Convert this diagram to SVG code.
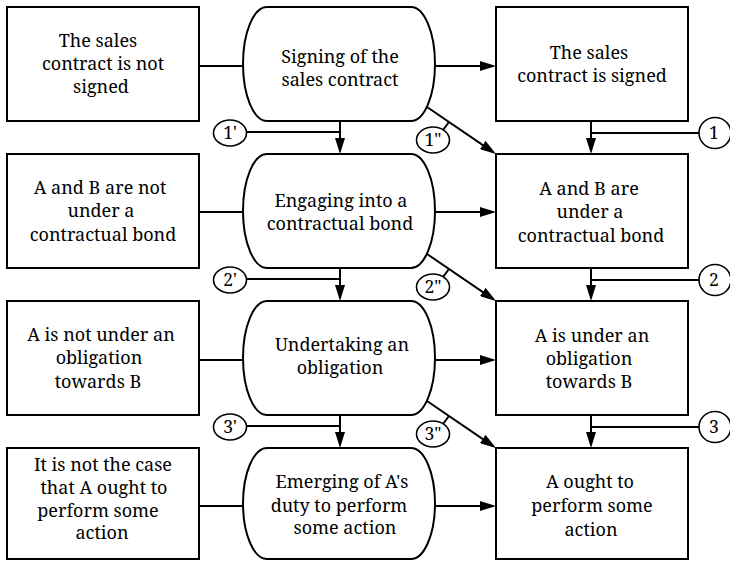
<svg xmlns="http://www.w3.org/2000/svg" width="730" height="561" viewBox="0 0 730 561">
<style>
.box{fill:#fff;stroke:#000;stroke-width:2}
.ov{fill:#fff;stroke:#000;stroke-width:2}
.c{fill:#fff;stroke:#000;stroke-width:1.6}
.ln{fill:none;stroke:#000;stroke-width:2}
.ar{fill:none;stroke:#000;stroke-width:2;marker-end:url(#ah)}
text{font-family:'Noto Serif','DejaVu Serif',serif;fill:#000;text-anchor:middle}
.t{font-size:18px}
.l{font-size:17.5px}
</style>
<defs>
<marker id="ah" markerUnits="userSpaceOnUse" markerWidth="16" markerHeight="10" refX="13" refY="5" orient="auto">
<path d="M0,0 L16,5 L0,10 Z" fill="#000"/>
</marker>
</defs>
<rect width="730" height="561" fill="#fff"/>

<g id="connectors">
<line class="ln" x1="199" y1="66" x2="243" y2="66"/>
<line class="ar" x1="435" y1="66" x2="493" y2="66"/>
<line class="ln" x1="199" y1="212" x2="243" y2="212"/>
<line class="ar" x1="435" y1="212" x2="493" y2="212"/>
<line class="ln" x1="199" y1="360" x2="243" y2="360"/>
<line class="ar" x1="435" y1="360" x2="493" y2="360"/>
<line class="ln" x1="199" y1="506" x2="243" y2="506"/>
<line class="ar" x1="435" y1="506" x2="493" y2="506"/>
<line class="ar" x1="340" y1="121" x2="340" y2="151"/>
<line class="ar" x1="340" y1="268" x2="340" y2="298"/>
<line class="ar" x1="340" y1="415" x2="340" y2="445"/>
<line class="ar" x1="591" y1="121" x2="591" y2="151"/>
<line class="ar" x1="591" y1="268" x2="591" y2="298"/>
<line class="ar" x1="591" y1="415" x2="591" y2="445"/>
<line class="ar" x1="427" y1="107" x2="493.5" y2="152.3"/>
<line class="ar" x1="427" y1="254" x2="493.5" y2="299.3"/>
<line class="ar" x1="427" y1="401" x2="493.5" y2="446.3"/>
<line class="ln" x1="246" y1="132" x2="340" y2="132"/>
<line class="ln" x1="246" y1="279" x2="340" y2="279"/>
<line class="ln" x1="246" y1="426" x2="340" y2="426"/>
<line class="ln" x1="699" y1="133" x2="591" y2="133"/>
<line class="ln" x1="699" y1="280" x2="591" y2="280"/>
<line class="ln" x1="699" y1="427" x2="591" y2="427"/>
<line class="ln" x1="443" y1="130" x2="449" y2="122"/>
<line class="ln" x1="443" y1="277" x2="449" y2="269"/>
<line class="ln" x1="443" y1="424" x2="449" y2="416"/>
</g>

<g id="left1"><rect class="box" x="7" y="7" width="192" height="114"/>
<text class="t"><tspan x="98" y="47">The sales</tspan><tspan x="103" y="70">contract is not</tspan><tspan x="101" y="93">signed</tspan></text></g>
<g id="mid1"><path class="ov" d="M267,7 H411 A24,57 0 0 1 411,121 H267 A24,57 0 0 1 267,7 Z"/>
<text class="t"><tspan x="340" y="63">Signing of the</tspan><tspan x="340" y="86">sales contract</tspan></text></g>
<g id="right1"><rect class="box" x="496" y="7" width="192" height="114"/>
<text class="t"><tspan x="589" y="59">The sales</tspan><tspan x="592" y="82">contract is signed</tspan></text></g>

<g id="left2"><rect class="box" x="7" y="154" width="192" height="114"/>
<text class="t"><tspan x="100" y="194">A and B are not</tspan><tspan x="101" y="217">under a</tspan><tspan x="103" y="241">contractual bond</tspan></text></g>
<g id="mid2"><path class="ov" d="M267,154 H411 A24,57 0 0 1 411,268 H267 A24,57 0 0 1 267,154 Z"/>
<text class="t"><tspan x="341" y="207">Engaging into a</tspan><tspan x="340" y="230">contractual bond</tspan></text></g>
<g id="right2"><rect class="box" x="496" y="154" width="192" height="114"/>
<text class="t"><tspan x="589" y="195">A and B are</tspan><tspan x="590" y="218">under a</tspan><tspan x="591" y="242">contractual bond</tspan></text></g>

<g id="left3"><rect class="box" x="7" y="301" width="192" height="114"/>
<text class="t"><tspan x="101" y="341">A is not under an</tspan><tspan x="99" y="364">obligation</tspan><tspan x="98" y="388">towards B</tspan></text></g>
<g id="mid3"><path class="ov" d="M267,301 H411 A24,57 0 0 1 411,415 H267 A24,57 0 0 1 267,301 Z"/>
<text class="t"><tspan x="342" y="351">Undertaking an</tspan><tspan x="340" y="374">obligation</tspan></text></g>
<g id="right3"><rect class="box" x="496" y="301" width="192" height="114"/>
<text class="t"><tspan x="592" y="342">A is under an</tspan><tspan x="589" y="365">obligation</tspan><tspan x="589" y="388">towards B</tspan></text></g>

<g id="left4"><rect class="box" x="7" y="448" width="192" height="111"/>
<text class="t"><tspan x="103" y="471">It is not the case</tspan><tspan x="104" y="494">that A ought to</tspan><tspan x="98" y="517">perform some</tspan><tspan x="102" y="539">action</tspan></text></g>
<g id="mid4"><path class="ov" d="M267,448 H411 A24,55.5 0 0 1 411,559 H267 A24,55.5 0 0 1 267,448 Z"/>
<text class="t"><tspan x="342" y="488">Emerging of A's</tspan><tspan x="339" y="512">duty to perform</tspan><tspan x="345" y="534">some action</tspan></text></g>
<g id="right4"><rect class="box" x="496" y="448" width="192" height="111"/>
<text class="t"><tspan x="590" y="488">A ought to</tspan><tspan x="592" y="512">perform some</tspan><tspan x="591" y="536">action</tspan></text></g>

<g id="c1p"><ellipse class="c" cx="230" cy="133" rx="16.5" ry="13"/><text class="l" x="230" y="139">1'</text></g>
<g id="c2p"><ellipse class="c" cx="230" cy="280" rx="16.5" ry="13"/><text class="l" x="230" y="286">2'</text></g>
<g id="c3p"><ellipse class="c" cx="230" cy="427" rx="16.5" ry="13"/><text class="l" x="230" y="433">3'</text></g>
<g id="c1pp"><ellipse class="c" cx="433" cy="140" rx="16.5" ry="13"/><text class="l" x="433" y="146">1"</text></g>
<g id="c2pp"><ellipse class="c" cx="433" cy="287" rx="16.5" ry="13"/><text class="l" x="433" y="293">2"</text></g>
<g id="c3pp"><ellipse class="c" cx="433" cy="434" rx="16.5" ry="13"/><text class="l" x="433" y="440">3"</text></g>
<g id="c1"><ellipse class="c" cx="715" cy="133" rx="16" ry="15.5"/><text class="l" x="714" y="139">1</text></g>
<g id="c2"><ellipse class="c" cx="715" cy="280" rx="16" ry="15.5"/><text class="l" x="714" y="286">2</text></g>
<g id="c3"><ellipse class="c" cx="715" cy="427" rx="16" ry="15.5"/><text class="l" x="714" y="433">3</text></g>
</svg>
